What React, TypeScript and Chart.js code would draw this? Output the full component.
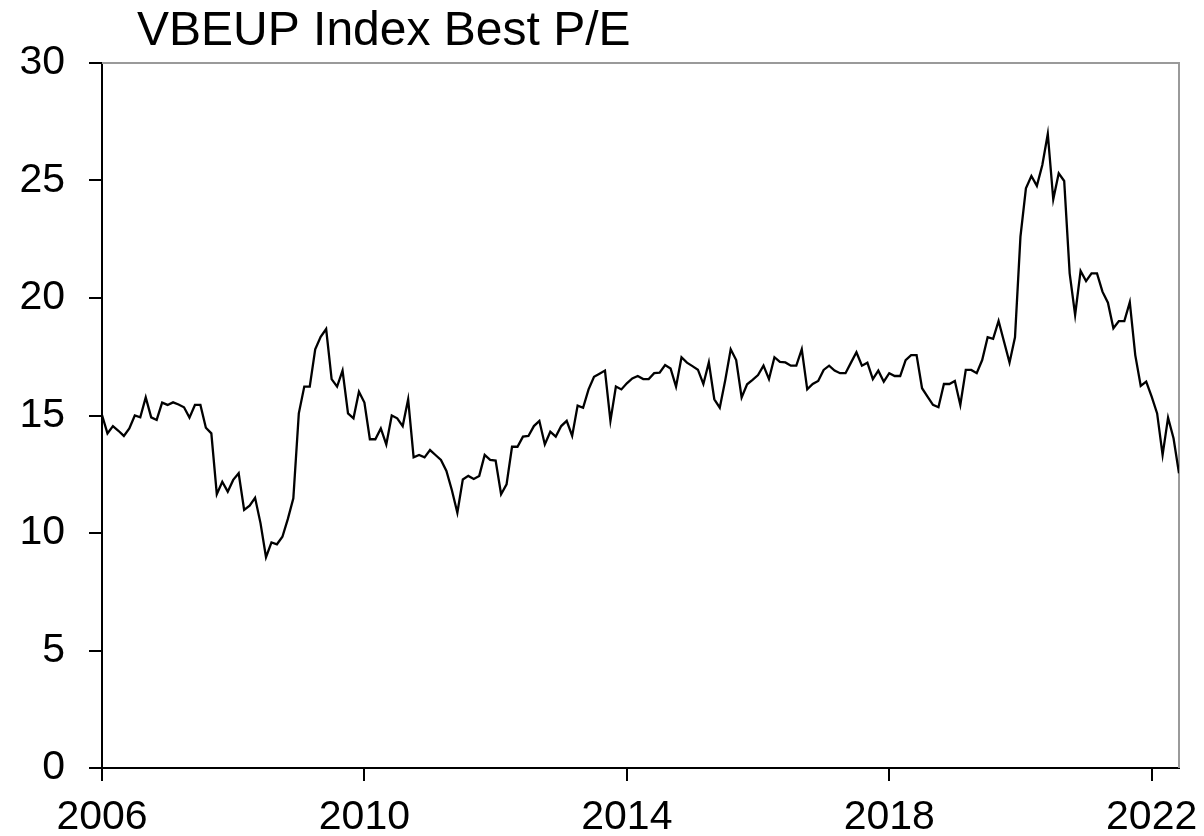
import React, { useEffect, useRef } from "react";
import { Chart, registerables } from "chart.js";

Chart.register(...registerables);

const TITLE = "VBEUP Index Best P/E";
const START_YEAR = 2006;
const X_MAX = 2022 + 5 / 12;
const X_TICK_YEARS = [2006, 2010, 2014, 2018, 2022];
const Y_MIN = 0;
const Y_MAX = 30;
const Y_STEP = 5;

// Monthly Best P/E readings, Jan 2006 onwards
const PE_VALUES = [
  // 2006
  15.02, 14.24, 14.55, 14.35, 14.13, 14.45, 15.0, 14.92, 15.77, 14.92, 14.81, 15.55,
  // 2007
  15.45, 15.56, 15.47, 15.35, 14.91, 15.45, 15.45, 14.48, 14.24, 11.65, 12.18, 11.76,
  // 2008
  12.26, 12.54, 10.98, 11.16, 11.5, 10.41, 8.97, 9.6, 9.52, 9.84, 10.6, 11.48,
  // 2009
  15.09, 16.23, 16.23, 17.82, 18.35, 18.68, 16.55, 16.23, 16.91, 15.09, 14.88, 16.01,
  // 2010
  15.55, 13.99, 13.99, 14.45, 13.77, 15.0, 14.88, 14.55, 15.69, 13.22, 13.32, 13.22,
  // 2011
  13.53, 13.32, 13.11, 12.64, 11.82, 10.86, 12.28, 12.43, 12.3, 12.43, 13.32, 13.11,
  // 2012
  13.08, 11.65, 12.07, 13.67, 13.67, 14.1, 14.13, 14.55, 14.77, 13.77, 14.31, 14.1,
  // 2013
  14.55, 14.77, 14.13, 15.42, 15.33, 16.11, 16.65, 16.78, 16.91, 14.77, 16.23, 16.11,
  // 2014
  16.37, 16.58, 16.68, 16.55, 16.55, 16.8, 16.82, 17.15, 17.0, 16.23, 17.48, 17.25,
  // 2015
  17.1, 16.95, 16.34, 17.26, 15.69, 15.33, 16.5, 17.82, 17.36, 15.77, 16.33, 16.52,
  // 2016
  16.72, 17.12, 16.55, 17.48, 17.28, 17.26, 17.12, 17.12, 17.82, 16.11, 16.34, 16.47,
  // 2017
  16.94, 17.12, 16.91, 16.8, 16.8, 17.25, 17.69, 17.12, 17.25, 16.55, 16.91, 16.44,
  // 2018
  16.8, 16.68, 16.68, 17.36, 17.57, 17.57, 16.16, 15.8, 15.45, 15.35, 16.34, 16.34,
  // 2019
  16.47, 15.45, 16.94, 16.94, 16.8, 17.36, 18.33, 18.26, 19.02, 18.14, 17.25, 18.33,
  // 2020
  22.61, 24.67, 25.19, 24.77, 25.66, 26.98, 24.2, 25.31, 24.98, 21.05, 19.28, 21.15,
  // 2021
  20.72, 21.05, 21.05, 20.27, 19.8, 18.71, 19.02, 19.02, 19.82, 17.57, 16.26, 16.44,
  // 2022
  15.8, 15.09, 13.32, 14.91, 14.03, 12.54,
];

const FONT_FAMILY = "'Liberation Sans', Arial, sans-serif";

export default function App() {
  const canvasRef = useRef<HTMLCanvasElement | null>(null);

  useEffect(() => {
    document.body.style.margin = "0";
    const canvas = canvasRef.current;
    if (!canvas) return;

    const points = PE_VALUES.map((v, i) => ({ x: START_YEAR + i / 12, y: v }));

    const framePlugin = {
      id: "frame",
      beforeDatasetsDraw(chart: any) {
        const { ctx, chartArea } = chart;
        ctx.save();
        ctx.strokeStyle = "#9a9a9a";
        ctx.lineWidth = 2;
        ctx.beginPath();
        ctx.moveTo(chartArea.left, chartArea.top);
        ctx.lineTo(chartArea.right, chartArea.top);
        ctx.lineTo(chartArea.right, chartArea.bottom);
        ctx.stroke();
        ctx.restore();
      },
    };

    const titlePlugin = {
      id: "customTitle",
      afterDraw(chart: any) {
        const { ctx } = chart;
        ctx.save();
        ctx.fillStyle = "#000";
        ctx.font = `48px ${FONT_FAMILY}`;
        ctx.textAlign = "left";
        ctx.textBaseline = "alphabetic";
        ctx.fillText(TITLE, 137, 45);
        ctx.restore();
      },
    };

    const tickFont = { family: FONT_FAMILY, size: 41 };

    const chart = new Chart(canvas, {
      type: "line",
      data: {
        datasets: [
          {
            data: points,
            borderColor: "#000",
            borderWidth: 2.3,
            pointRadius: 0,
            tension: 0,
            fill: false,
          },
        ],
      },
      options: {
        animation: false,
        responsive: false,
        layout: { padding: { top: 63, right: 25, left: 0, bottom: 0 } },
        plugins: {
          legend: { display: false },
          tooltip: { enabled: false },
          title: { display: false },
        },
        scales: {
          x: {
            type: "linear",
            min: START_YEAR,
            max: X_MAX,
            afterBuildTicks: (scale: any) => {
              scale.ticks = X_TICK_YEARS.map((v) => ({ value: v }));
            },
            afterFit: (scale: any) => {
              scale.height = 68;
              scale.paddingLeft = 0;
              scale.paddingRight = 0;
            },
            grid: {
              drawOnChartArea: false,
              drawTicks: true,
              tickLength: 13,
              color: "#000",
              lineWidth: 2,
            },
            border: { display: true, color: "#000", width: 2 },
            ticks: {
              color: "#000",
              font: tickFont,
              padding: 12,
              maxRotation: 0,
              autoSkip: false,
              callback: (v: any) => String(v),
            },
          },
          y: {
            min: Y_MIN,
            max: Y_MAX,
            afterFit: (scale: any) => {
              scale.width = 102;
              scale.paddingTop = 0;
              scale.paddingBottom = 0;
            },
            grid: {
              drawOnChartArea: false,
              drawTicks: true,
              tickLength: 13,
              color: "#000",
              lineWidth: 2,
            },
            border: { display: true, color: "#000", width: 2 },
            ticks: {
              stepSize: Y_STEP,
              color: "#000",
              font: tickFont,
              padding: 24,
              callback: (v: any) => String(v),
            },
          },
        },
      },
      plugins: [framePlugin, titlePlugin],
    });

    return () => chart.destroy();
  }, []);

  return (
    <div style={{ width: 1204, height: 836, background: "#fff" }}>
      <canvas ref={canvasRef} width={1204} height={836} style={{ display: "block" }} />
    </div>
  );
}
